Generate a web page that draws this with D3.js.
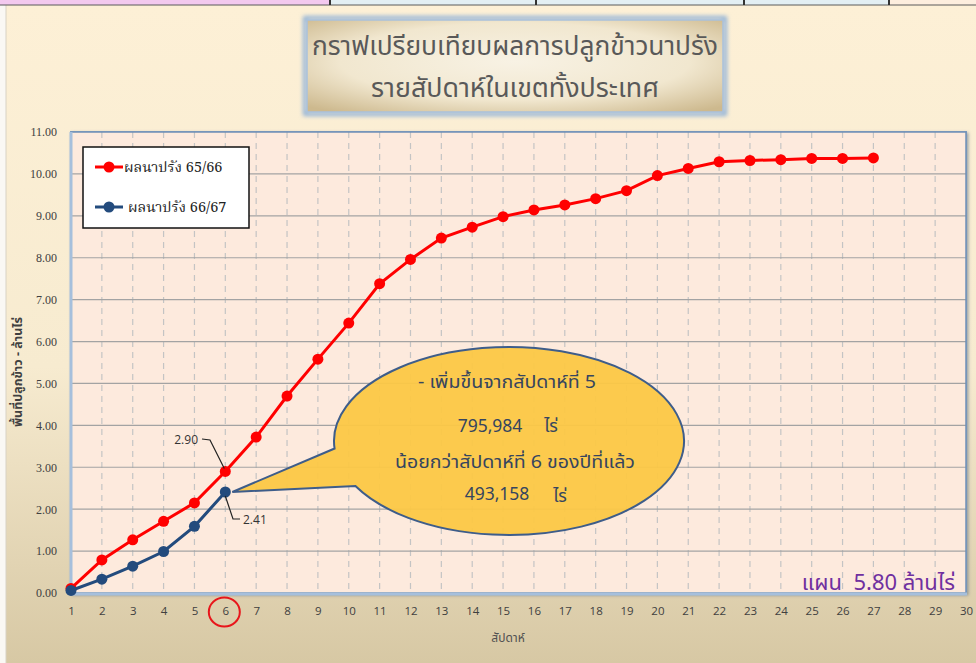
<!DOCTYPE html>
<html><head><meta charset="utf-8">
<script src="https://cdn.jsdelivr.net/npm/d3@7"></script>
<style>
html,body{margin:0;padding:0;background:#f7f4ee;}
svg{display:block;}
</style></head>
<body>
<svg id="chart" width="976" height="663"></svg>
<script>
const weeks = d3.range(1, 31);
const series1Name = "ผลนาปรัง 65/66";
const series2Name = "ผลนาปรัง 66/67";
const series1 = [0.11,0.79,1.27,1.71,2.15,2.90,3.72,4.70,5.58,6.44,7.38,7.96,8.47,8.73,8.98,9.14,9.26,9.41,9.60,9.96,10.13,10.29,10.32,10.34,10.37,10.37,10.38];
const series2 = [0.06,0.33,0.64,0.99,1.59,2.41];
const yTicks = [0,1,2,3,4,5,6,7,8,9,10,11];
const titleLines = ["กราฟเปรียบเทียบผลการปลูกข้าวนาปรัง","รายสัปดาห์ในเขตทั้งประเทศ"];
const yTitle = "พื้นที่ปลูกข้าว - ล้านไร่";
const xTitle = "สัปดาห์";
const calloutLines = ["- เพิ่มขึ้นจากสัปดาห์ที่ 5","795,984","น้อยกว่าสัปดาห์ที่ 6 ของปีที่แล้ว","493,158"];
const raiUnit = "ไร่";
const planText = "แผน  5.80 ล้านไร่";
const topStrip = [[0,330,"#f3c9ef"],[330,536,"#e3eff3"],[536,744,"#e3eff3"],[744,889,"#e3eff3"],[889,976,"#fdeede"]];

const thai = "'Noto Sans Thai','Noto Sans Thai UI','Loma','Garuda','Tlwg Typo','Noto Sans',sans-serif";
const thaiSerif = "'Noto Serif Thai','Noto Sans Thai','Garuda','Liberation Serif',serif";

const svg = d3.select("#chart");
const defs = svg.append("defs");

const bg = defs.append("linearGradient").attr("id","bg").attr("x1",0).attr("y1",0).attr("x2",0).attr("y2",1);
bg.append("stop").attr("offset","0%").attr("stop-color","#fdf0d6");
bg.append("stop").attr("offset","55%").attr("stop-color","#f7ebd0");
bg.append("stop").attr("offset","100%").attr("stop-color","#d7c8a4");

const tb = defs.append("radialGradient").attr("id","tb").attr("cx","50%").attr("cy","45%").attr("r","70%");
tb.append("stop").attr("offset","0%").attr("stop-color","#f8f2e4");
tb.append("stop").attr("offset","60%").attr("stop-color","#f1e7cf");
tb.append("stop").attr("offset","100%").attr("stop-color","#cdb98e");

const glow = defs.append("filter").attr("id","glow").attr("x","-10%").attr("y","-20%").attr("width","120%").attr("height","140%");
glow.append("feGaussianBlur").attr("stdDeviation",2);

const shadow = defs.append("filter").attr("id","shd").attr("x","-5%").attr("y","-5%").attr("width","110%").attr("height","110%");
shadow.append("feDropShadow").attr("dx",1.5).attr("dy",1.5).attr("stdDeviation",1.5).attr("flood-color","#5a6f8c").attr("flood-opacity",0.6);

// background
svg.append("rect").attr("x",0).attr("y",0).attr("width",976).attr("height",663).attr("fill","#faf8f4");
svg.append("rect").attr("x",6).attr("y",5).attr("width",970).attr("height",658).attr("fill","url(#bg)");
svg.append("line").attr("x1",6).attr("x2",6).attr("y1",5).attr("y2",663).attr("stroke","#d8d2c4").attr("stroke-width",1);

// top strip
svg.selectAll("rect.strip").data(topStrip).join("rect").attr("class","strip")
  .attr("x",d=>d[0]).attr("y",0).attr("width",d=>d[1]-d[0]).attr("height",5).attr("fill",d=>d[2]);
svg.append("line").attr("x1",0).attr("x2",976).attr("y1",5).attr("y2",5).attr("stroke","#5a5a5a").attr("stroke-width",1);
svg.selectAll("line.sep").data(topStrip.slice(1)).join("line").attr("class","sep")
  .attr("x1",d=>d[0]).attr("x2",d=>d[0]).attr("y1",0).attr("y2",5).attr("stroke","#333").attr("stroke-width",2);

// title box
svg.append("rect").attr("x",305).attr("y",18).attr("width",420).attr("height",96).attr("fill","none")
  .attr("stroke","#8fb1d8").attr("stroke-width",4).attr("filter","url(#glow)");
svg.append("rect").attr("x",307).attr("y",20).attr("width",416).attr("height",92).attr("fill","url(#tb)")
  .attr("stroke","#a9c1dc").attr("stroke-width",1.5);
svg.selectAll("text.title").data(titleLines).join("text").attr("class","title")
  .attr("x",515).attr("y",(d,i)=>i===0?55:97).attr("text-anchor","middle")
  .attr("font-family",thai).attr("font-size",26).attr("fill","#595959")
  .attr("textLength",(d,i)=>i===0?406:288).attr("lengthAdjust","spacingAndGlyphs")
  .text(d=>d);

// scales
const x = d3.scaleLinear().domain([1,30]).range([71,966]);
const y = d3.scaleLinear().domain([0,11]).range([593,132]);

// plot area
svg.append("rect").attr("x",71).attr("y",132).attr("width",895).attr("height",461)
  .attr("fill","#fdeadd").attr("stroke","#8ea9c9").attr("stroke-width",2).attr("filter","url(#shd)");
svg.append("rect").attr("x",71).attr("y",132).attr("width",895).attr("height",461)
  .attr("fill","#fdeadd");

// vertical dashed grid
svg.append("g").selectAll("line").data(weeks.filter(w=>w>1 && w<30)).join("line")
  .attr("x1",d=>x(d)).attr("x2",d=>x(d)).attr("y1",y(11)).attr("y2",y(0))
  .attr("stroke","#c4c4c4").attr("stroke-width",1.2).attr("stroke-dasharray","6,5");
// horizontal grid
svg.append("g").selectAll("line").data(yTicks.filter(t=>t>0 && t<11)).join("line")
  .attr("x1",x(1)).attr("x2",x(30)).attr("y1",d=>y(d)).attr("y2",d=>y(d))
  .attr("stroke","#a3a3a3").attr("stroke-width",1.2);

// border
svg.append("rect").attr("x",71).attr("y",132).attr("width",895).attr("height",461)
  .attr("fill","none").attr("stroke","#6f8fb5").attr("stroke-width",1.5);
svg.append("line").attr("x1",71).attr("x2",71).attr("y1",132).attr("y2",594).attr("stroke","#a6bfdc").attr("stroke-width",3);
svg.append("line").attr("x1",70).attr("x2",967).attr("y1",594).attr("y2",594).attr("stroke","#a6bfdc").attr("stroke-width",3);

// axes
const yAxis = d3.axisLeft(y).tickValues(yTicks).tickFormat(d3.format(".2f")).tickSize(0).tickPadding(14);
const gy = svg.append("g").attr("transform","translate(71,0)").call(yAxis);
gy.select(".domain").remove();
gy.selectAll("text").attr("font-family","'Liberation Serif','DejaVu Serif',serif").attr("font-size",12).attr("fill","#404040");

const xAxis = d3.axisBottom(x).tickValues(weeks).tickFormat(d3.format("d")).tickSize(0).tickPadding(14);
const gx = svg.append("g").attr("transform","translate(0,593)").call(xAxis);
gx.select(".domain").remove();
gx.selectAll("text").attr("font-family","'Open Sans','DejaVu Sans',sans-serif").attr("font-size",11.5).attr("fill","#404040");

// axis titles
svg.append("text").attr("transform","translate(22,372) rotate(-90)").attr("text-anchor","middle")
  .attr("font-family",thai).attr("font-size",12.5).attr("font-weight","bold").attr("fill","#404040").text(yTitle);
svg.append("text").attr("x",508).attr("y",642).attr("text-anchor","middle")
  .attr("font-family",thai).attr("font-size",12).attr("fill","#505050").text(xTitle);

// red circle around week 6
svg.append("ellipse").attr("cx",x(6)-1).attr("cy",612).attr("rx",15.5).attr("ry",14.5)
  .attr("fill","none").attr("stroke","#e8161b").attr("stroke-width",2);

// lines
const line = d3.line().x((d,i)=>x(weeks[i])).y(d=>y(d));
svg.append("path").datum(series1).attr("d",line).attr("fill","none").attr("stroke","#ff0000").attr("stroke-width",3);
svg.append("g").selectAll("circle").data(series1).join("circle")
  .attr("cx",(d,i)=>x(weeks[i])).attr("cy",d=>y(d)).attr("r",5.5).attr("fill","#ff0000");

// callout bubble (drawn before blue series)
const ex = 509, ey = 441, rx = 175, ry = 94;
const apex = [x(6)+7, y(2.41)];
const p1 = [ex + rx*Math.cos(Math.PI-0.5), ey + ry*Math.sin(Math.PI-0.5)];
const p2 = [ex + rx*Math.cos(Math.PI-0.08), ey + ry*Math.sin(Math.PI-0.08)];
const bubble = `M${apex[0]},${apex[1]} L${p1[0]},${p1[1]} A${rx},${ry} 0 1 0 ${p2[0]},${p2[1]} Z`;
svg.append("path").attr("d",bubble).attr("fill","#fcc844").attr("fill-opacity",0.94)
  .attr("stroke","#3e5d8a").attr("stroke-width",2).attr("stroke-linejoin","miter");

const cText = svg.append("g").attr("font-family",thai).attr("font-size",17.5).attr("fill","#36455f");
cText.append("text").attr("x",507).attr("y",388).attr("text-anchor","middle")
  .attr("textLength",178).attr("lengthAdjust","spacingAndGlyphs").text(calloutLines[0]);
cText.append("text").attr("x",490).attr("y",432).attr("text-anchor","middle").text(calloutLines[1]);
cText.append("text").attr("x",551).attr("y",432).attr("text-anchor","middle").text(raiUnit);
cText.append("text").attr("x",515).attr("y",468).attr("text-anchor","middle")
  .attr("textLength",240).attr("lengthAdjust","spacingAndGlyphs").text(calloutLines[2]);
cText.append("text").attr("x",497).attr("y",500).attr("text-anchor","middle").text(calloutLines[3]);
cText.append("text").attr("x",560).attr("y",502).attr("text-anchor","middle").text(raiUnit);

// blue series
svg.append("path").datum(series2).attr("d",line).attr("fill","none").attr("stroke","#234b7d").attr("stroke-width",3);
svg.append("g").selectAll("circle").data(series2).join("circle")
  .attr("cx",(d,i)=>x(weeks[i])).attr("cy",d=>y(d)).attr("r",5.5).attr("fill","#234b7d");

// data labels with leaders
const lab = svg.append("g").attr("font-family","'Open Sans','DejaVu Sans',sans-serif").attr("font-size",12).attr("fill","#333");
lab.append("text").attr("x",198).attr("y",444).attr("text-anchor","end").text(d3.format(".2f")(series1[5]));
lab.append("path").attr("d",`M202,439 L210,440 L${x(6)-1},${y(series1[5])-3}`).attr("fill","none").attr("stroke","#222").attr("stroke-width",1.2);
lab.append("text").attr("x",243).attr("y",524).text(d3.format(".2f")(series2[5]));
lab.append("path").attr("d",`M${x(6)},${y(series2[5])+4} L233,519 L240,519`).attr("fill","none").attr("stroke","#222").attr("stroke-width",1.2);

// legend
const lg = svg.append("g");
lg.append("rect").attr("x",83).attr("y",147).attr("width",166).attr("height",81).attr("fill","#ffffff").attr("stroke","#111").attr("stroke-width",1.5);
const legendItems = [[series1Name,"#ff0000",167,124],[series2Name,"#234b7d",207,128]];
legendItems.forEach(([name,col,ly,tx])=>{
  lg.append("line").attr("x1",95).attr("x2",123).attr("y1",ly).attr("y2",ly).attr("stroke",col).attr("stroke-width",3);
  lg.append("circle").attr("cx",109).attr("cy",ly).attr("r",5.5).attr("fill",col);
  lg.append("text").attr("x",tx).attr("y",ly+5).attr("font-family",thaiSerif).attr("font-size",14.5).attr("fill","#222").text(name);
});

// plan text
svg.append("text").attr("x",955).attr("y",590).attr("text-anchor","end")
  .attr("font-family",thai).attr("font-size",22).attr("fill","#7030a0").style("white-space","pre").text(planText);
</script>
</body></html>
